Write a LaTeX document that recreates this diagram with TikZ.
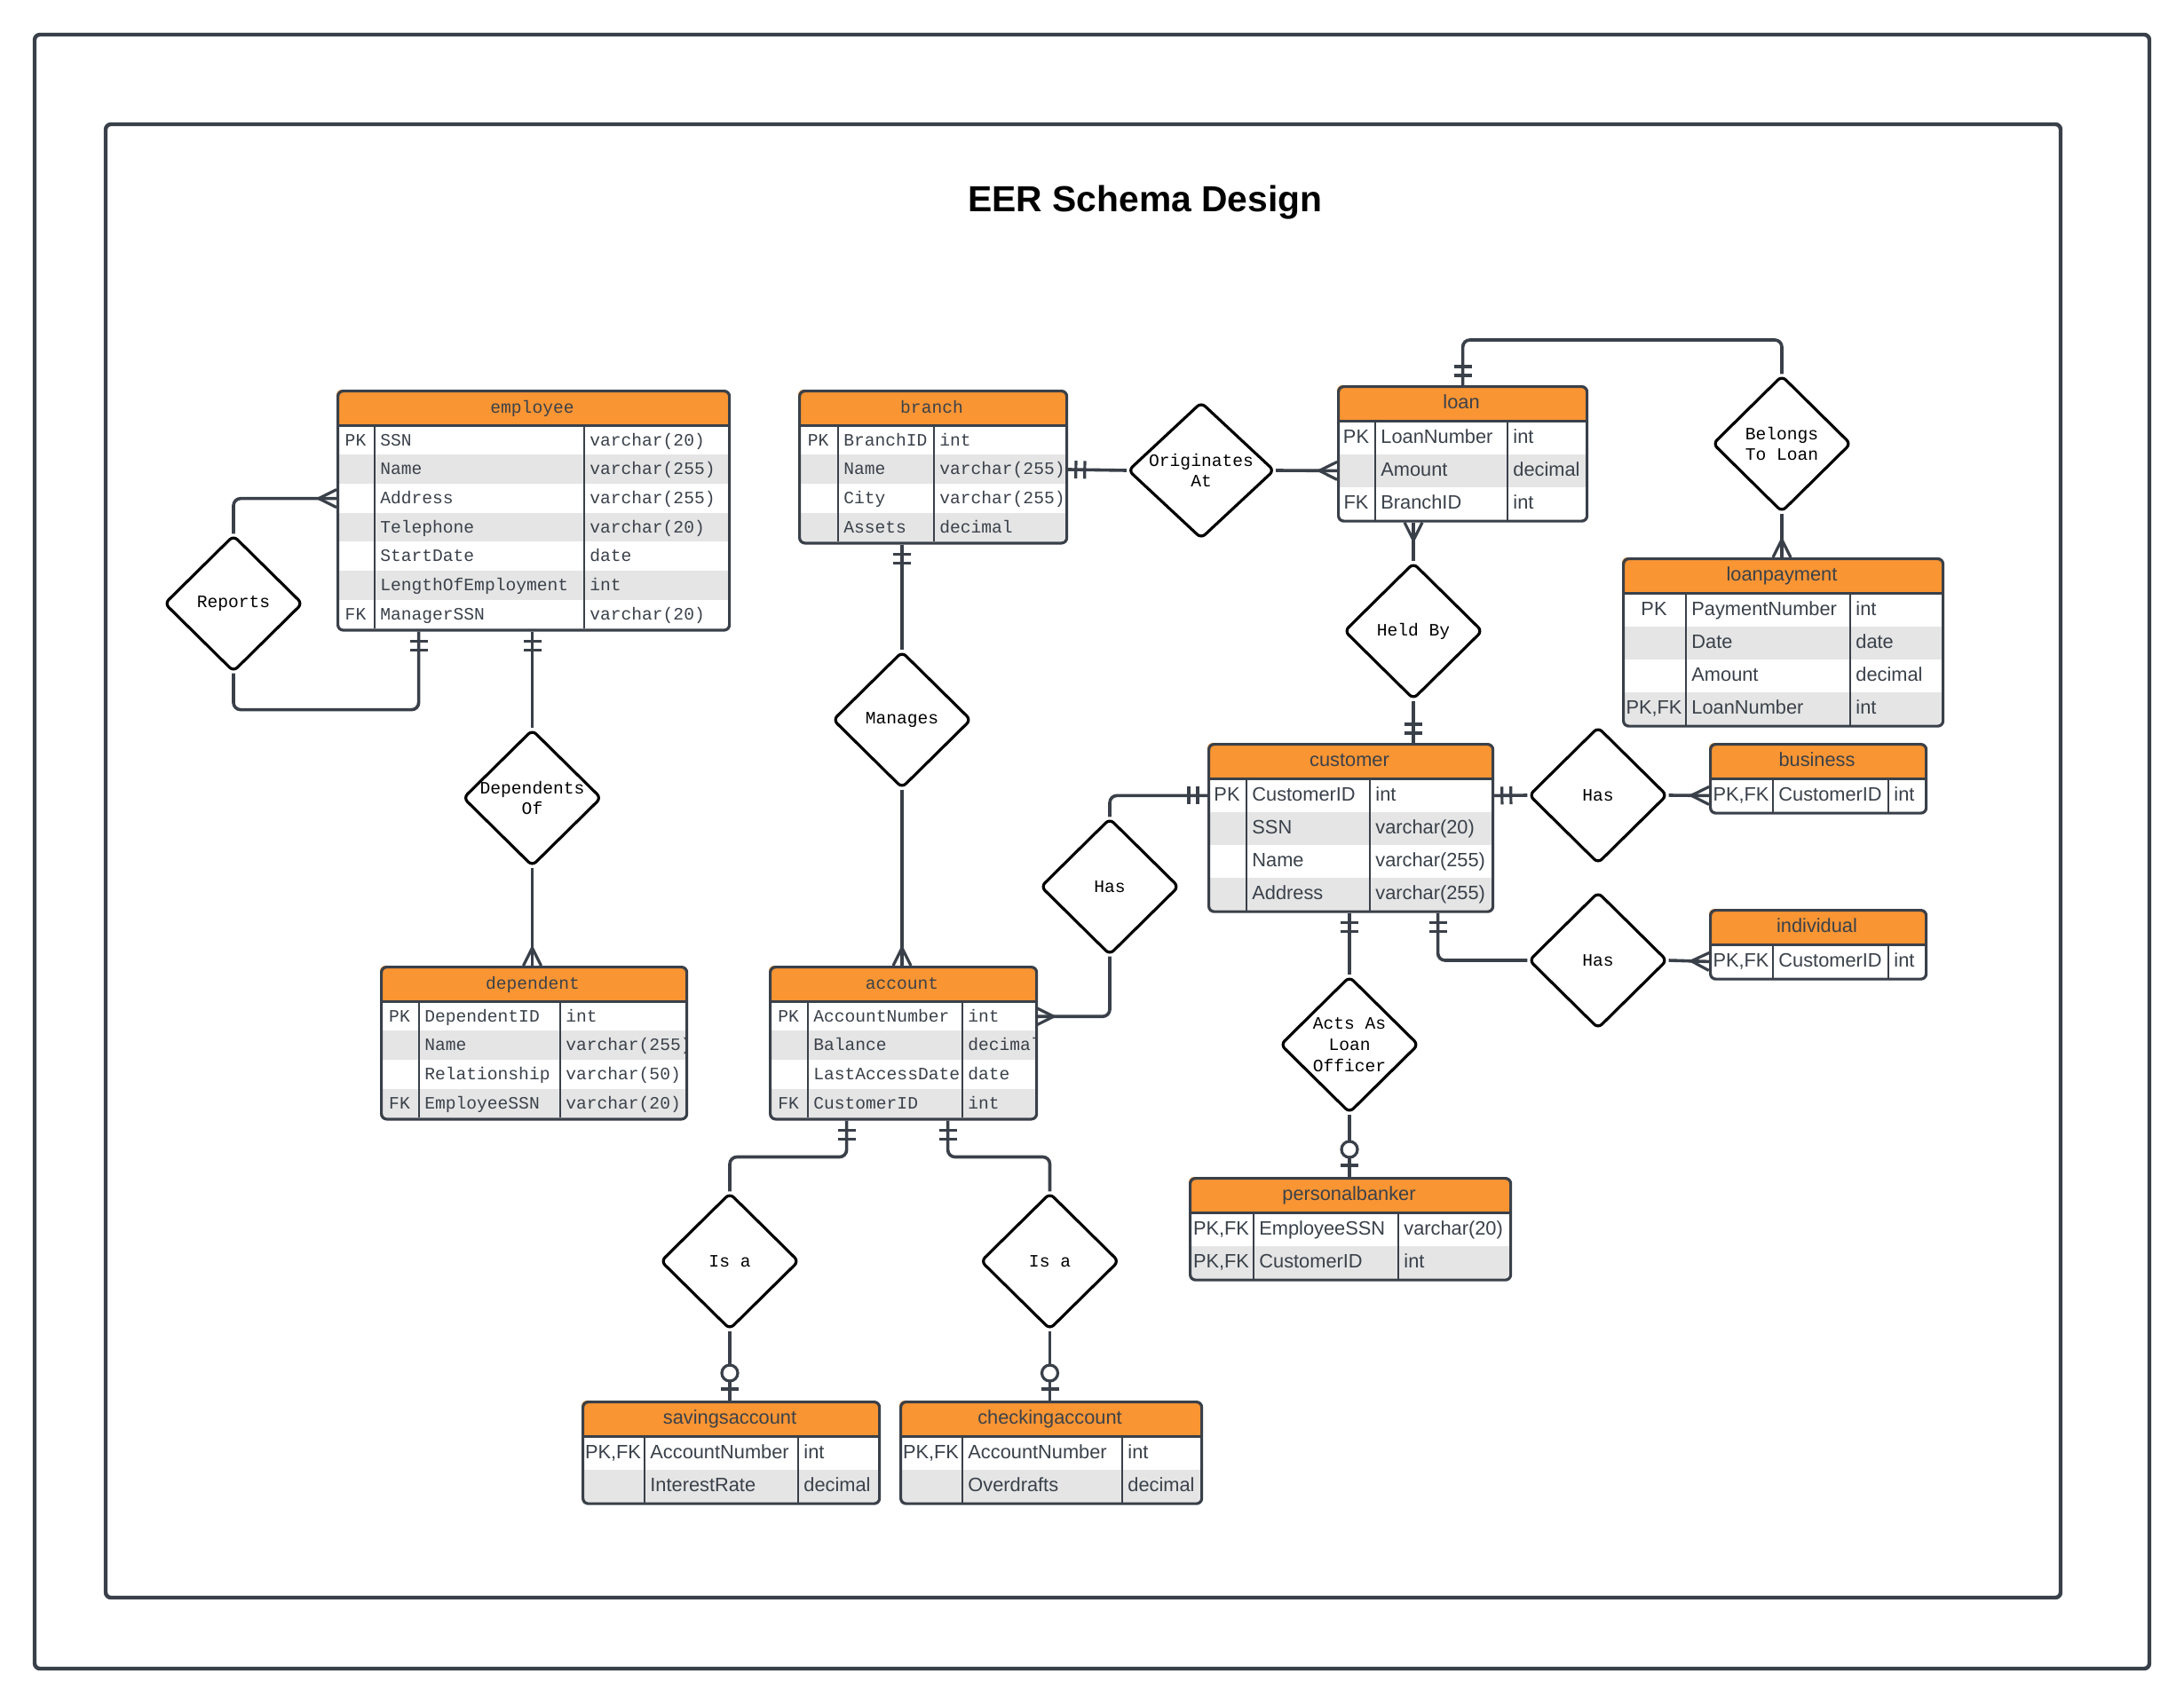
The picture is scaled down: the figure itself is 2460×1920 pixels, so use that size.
\documentclass[tikz,border=0pt]{standalone}
\usepackage{fontspec}
\setmainfont{Liberation Sans}
\setmonofont{Liberation Mono}
\usetikzlibrary{shapes.geometric,decorations.markings}

\definecolor{hdrorange}{HTML}{FA9533}
\definecolor{linegray}{HTML}{3A4049}
\definecolor{rowgray}{HTML}{E5E5E5}
\definecolor{txtgray}{HTML}{3A414A}

\newcommand{\ermono}{\fontsize{9.8}{11.8}\selectfont\ttfamily}
\newcommand{\ersans}{\fontsize{10.9}{13}\selectfont\rmfamily}

\tikzset{
  link/.style={draw=linegray, line width=1.8pt, rounded corners=4pt},
  endmark/.style={draw=linegray, line width=1.6pt, sharp corners},
  relation/.style={diamond, draw=black, fill=white, line width=1.6pt, rounded corners=3pt,
    minimum width=78pt, minimum height=77pt, inner sep=0pt},
  rellabel/.style={font=\ermono, align=center, text=black},
  tabtext/.style={font=\ermono, text=txtgray, inner sep=0pt, text height=1.6ex, text depth=.4ex},
  tabline/.style={draw=linegray, line width=1.4pt},
  tabframe/.style={draw=linegray, line width=1.6pt, rounded corners=3pt, inner sep=0pt},
  crowend/.style={postaction={decorate, decoration={markings, mark=at position 1 with
    {\draw[endmark] (0pt,5pt) -- (-10pt,0pt) -- (0pt,-5pt);}}}},
  crowstart/.style={postaction={decorate, decoration={markings, mark=at position 0 with
    {\draw[endmark] (0pt,5pt) -- (10pt,0pt) -- (0pt,-5pt);}}}},
  oneend/.style={postaction={decorate, decoration={markings, mark=at position 1 with
    {\draw[endmark] (-5.5pt,5pt) -- (-5.5pt,-5pt) (-10.5pt,5pt) -- (-10.5pt,-5pt);}}}},
  onestart/.style={postaction={decorate, decoration={markings, mark=at position 0 with
    {\draw[endmark] (5.5pt,5pt) -- (5.5pt,-5pt) (10.5pt,5pt) -- (10.5pt,-5pt);}}}},
  zeroend/.style={postaction={decorate, decoration={markings, mark=at position 1 with
    {\draw[endmark] (-6.5pt,5pt) -- (-6.5pt,-5pt); \draw[endmark, fill=white] (-15.5pt,0pt) circle (4.5pt);}}}}
}

% #1 name, (#2,#3) top left, #4/#5/#6 column widths, #7 row height, #8 title, #9 rows
\newcommand{\ertable}[9]{%
  \foreach \r [count=\c] in {#9} {\xdef\errows{\c}}
  \pgfmathsetmacro\erw{#4+#5+#6}
  \pgfmathsetmacro\erh{40.5+\errows*#7}
  \begin{scope}
    \clip[rounded corners=3pt] (#2,#3) rectangle ++(\erw,\erh);
    \fill[hdrorange] (#2,#3) rectangle ++(\erw,40.5);
    \node[tabtext] (#1-h) at (#2+\erw/2,#3+20.25) {#8};
    \foreach \ky/\nm/\ty [count=\i] in {#9} {
      \pgfmathsetmacro\ery{#3+40.5+(\i-1)*#7}
      \ifodd\i\else \fill[rowgray] (#2,\ery) rectangle ++(\erw,#7);\fi
      \node[anchor=north west, minimum width=\erw*0.5pt, minimum height=#7*0.5pt, inner sep=0pt] (#1-\i) at (#2,\ery) {};
      \node[tabtext] (#1-\i-k) at (#2+#4/2,\ery+#7/2) {\ky};
      \node[tabtext, anchor=west] (#1-\i-n) at (#2+#4+6,\ery+#7/2) {\nm};
      \node[tabtext, anchor=west] (#1-\i-t) at (#2+#4+#5+6,\ery+#7/2) {\ty};
    }
  \end{scope}
  \draw[tabline] (#2,#3+40.5) -- ++(\erw,0)
    (#2+#4,#3+40.5) -- (#2+#4,#3+\erh)
    (#2+#4+#5,#3+40.5) -- (#2+#4+#5,#3+\erh);
  \node[tabframe, anchor=north west, minimum width=\erw*0.5pt, minimum height=\erh*0.5pt] (#1) at (#2,#3) {};
}

\begin{document}
\begin{tikzpicture}[x=0.5pt,y=-0.5pt]
\useasboundingbox (0,0) rectangle (2460,1920);
\fill[white] (0,0) rectangle (2460,1920);
% frames and title
\draw[linegray, line width=2.2pt, rounded corners=3pt] (39,39) rectangle (2421,1880);
\draw[linegray, line width=2.2pt, rounded corners=3pt] (119,140) rectangle (2321,1800);
\node[font=\fontsize{20.4}{24}\selectfont\bfseries, text=black] (title) at (1290,228) {EER Schema Design};

% tables in mono
\ertable{employee}{379}{439}{43}{236}{162}{32.7}{employee}{PK/SSN/varchar(20),/Name/varchar(255),/Address/varchar(255),/Telephone/varchar(20),/StartDate/date,/LengthOfEmployment/int,FK/ManagerSSN/varchar(20)}
\ertable{branch}{899}{439}{45}{108}{148}{32.7}{branch}{PK/BranchID/int,/Name/varchar(255),/City/varchar(255),/Assets/decimal}
\ertable{dependent}{428}{1088}{44}{159}{141}{32.7}{dependent}{PK/DependentID/int,/Name/varchar(255),/Relationship/varchar(50),FK/EmployeeSSN/varchar(20)}
\ertable{account}{866}{1088}{44}{174}{82}{32.7}{account}{PK/AccountNumber/int,/Balance/decimal,/LastAccessDate/date,FK/CustomerID/int}

% tables in sans
\tikzset{tabtext/.append style={font=\ersans}}
\ertable{loan}{1506}{434}{43}{149}{88}{37}{loan}{PK/LoanNumber/int,/Amount/decimal,FK/BranchID/int}
\ertable{loanpayment}{1827}{628}{72}{185}{103}{37}{loanpayment}{PK/PaymentNumber/int,/Date/date,/Amount/decimal,PK{,}FK/LoanNumber/int}
\ertable{customer}{1360}{837}{44}{139}{137}{37}{customer}{PK/CustomerID/int,/SSN/varchar(20),/Name/varchar(255),/Address/varchar(255)}
\ertable{business}{1925}{837}{72}{130}{41}{37}{business}{PK{,}FK/CustomerID/int}
\ertable{individual}{1925}{1024}{72}{130}{41}{37}{individual}{PK{,}FK/CustomerID/int}
\ertable{banker}{1339}{1326}{73}{163}{125}{37}{personalbanker}{PK{,}FK/EmployeeSSN/varchar(20),PK{,}FK/CustomerID/int}
\ertable{savings}{655}{1578}{71}{173}{90}{37}{savingsaccount}{PK{,}FK/AccountNumber/int,/InterestRate/decimal}
\ertable{checking}{1013}{1578}{71}{180}{88}{37}{checkingaccount}{PK{,}FK/AccountNumber/int,/Overdrafts/decimal}

% relationships
\node[relation, label={[name=reports-t, rellabel]center:Reports}] (reports) at (263,680) {};
\node[relation, label={[name=depof-t, rellabel]center:{Dependents\\Of}}] (depof) at (599.5,899) {};
\node[relation, label={[name=manages-t, rellabel]center:Manages}] (manages) at (1016,811) {};
\node[relation, minimum width=82.5pt, label={[name=orig-t, rellabel]center:{Originates\\At}}] (orig) at (1353,530) {};
\node[relation, label={[name=belongs-t, rellabel]center:{Belongs\\To Loan}}] (belongs) at (2007,500) {};
\node[relation, label={[name=heldby-t, rellabel]center:Held By}] (heldby) at (1592,711) {};
\node[relation, label={[name=hasacc-t, rellabel]center:Has}] (hasacc) at (1250,999) {};
\node[relation, label={[name=hasbus-t, rellabel]center:Has}] (hasbus) at (1800,896) {};
\node[relation, label={[name=hasind-t, rellabel]center:Has}] (hasind) at (1800,1082) {};
\node[relation, label={[name=actsas-t, rellabel]center:{Acts As\\Loan\\Officer}}] (actsas) at (1520,1177) {};
\node[relation, label={[name=isa1-t, rellabel]center:Is a}] (isa1) at (822,1421) {};
\node[relation, label={[name=isa2-t, rellabel]center:Is a}] (isa2) at (1182.5,1421) {};

% connectors
\draw[link, crowend] (reports.north) |- (employee-3.west);
\draw[link, oneend] (reports.south) -- ++(0,41) -| ([shift={(-129.5,0)}]employee.south);
\draw[link, onestart] (depof.north |- employee.south) -- (depof.north);
\draw[link, crowend] (depof.south) -- (depof.south |- dependent.north);
\draw[link, onestart] (manages.north |- branch.south) -- (manages.north);
\draw[link, crowend] (manages.south) -- (manages.south |- account.north);
\draw[link, onestart] (branch-2.east) -- (orig.west);
\draw[link, crowend] (orig.east) -- (loan-2.west);
\draw[link, onestart] (loan.north) -- ++(0,-51) -| (belongs.north);
\draw[link, crowend] (belongs.south) -- (belongs.south |- loanpayment.north);
\draw[link, crowstart] (heldby.north |- loan.south) -- (heldby.north);
\draw[link, oneend] (heldby.south) -- (heldby.south |- customer.north);
\draw[link, oneend] (hasacc.north) |- (customer-1.west);
\draw[link, crowend] (hasacc.south) |- (account-1.east);
\draw[link, onestart] (customer-1.east) -- (hasbus.west);
\draw[link, crowend] (hasbus.east) -- (business-1.west);
\draw[link, onestart] ([shift={(98,0)}]customer.south) |- (hasind.west);
\draw[link, crowend] (hasind.east) -- (individual-1.west);
\draw[link, onestart] (actsas.north |- customer.south) -- (actsas.north);
\draw[link, zeroend] (actsas.south) -- (actsas.south |- banker.north);
\draw[link, onestart] ([shift={(-64,0)}]account.south) -- ++(0,41) -| (isa1.north);
\draw[link, zeroend] (isa1.south) -- (isa1.south |- savings.north);
\draw[link, onestart] ([shift={(50,0)}]account.south) -- ++(0,41) -| (isa2.north);
\draw[link, zeroend] (isa2.south) -- (isa2.south |- checking.north);
\end{tikzpicture}
\end{document}
